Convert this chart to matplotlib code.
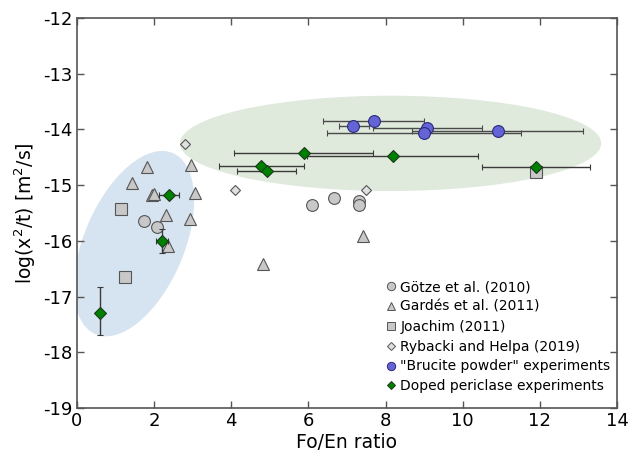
import matplotlib
matplotlib.use("Agg")
import matplotlib.pyplot as plt
from matplotlib.patches import Ellipse
from matplotlib.transforms import ScaledTranslation
from matplotlib.lines import Line2D

# ---------------- data ----------------
gotze_x = [1.74, 2.07, 6.10, 6.66, 7.32, 7.32]
gotze_y = [-15.64, -15.76, -15.36, -15.23, -15.28, -15.36]

gardes_x = [1.81, 2.96, 1.43, 1.94, 2.00, 3.07, 2.30, 2.92, 2.35, 4.82, 7.42]
gardes_y = [-14.68, -14.64, -14.97, -15.18, -15.15, -15.14, -15.54, -15.61, -16.10, -16.41, -15.91]

joachim_x = [1.15, 1.25, 11.90]
joachim_y = [-15.43, -16.65, -14.76]

rybacki_x = [2.81, 4.10, 7.49]
rybacki_y = [-14.26, -15.09, -15.09]

brucite_x = [7.69, 7.16, 9.07, 8.99, 10.91]
brucite_y = [-13.84, -13.94, -13.98, -14.06, -14.03]
brucite_xlo = [6.38, 6.79, 7.67, 6.47, 8.69]
brucite_xhi = [8.99, 7.56, 10.49, 11.50, 13.11]

doped_x = [5.88, 8.18, 4.76, 4.92, 11.90, 2.39, 2.20, 0.60]
doped_y = [-14.42, -14.47, -14.65, -14.75, -14.67, -15.17, -16.00, -17.30]
doped_xlo = [4.07, 5.97, 3.67, 4.15, 10.49, 2.13, 2.05, 0.60]
doped_xhi = [7.68, 10.40, 5.88, 5.69, 13.31, 2.65, 2.36, 0.60]
doped_ylo = [-14.42, -14.47, -14.65, -14.75, -14.67, -15.17, -16.21, -17.69]
doped_yhi = [-14.42, -14.47, -14.65, -14.75, -14.67, -15.17, -15.78, -16.83]

labels = ["Götze et al. (2010)", "Gardés et al. (2011)", "Joachim (2011)",
          "Rybacki and Helpa (2019)", "\"Brucite powder\" experiments",
          "Doped periclase experiments"]

xticks = [0, 2, 4, 6, 8, 10, 12, 14]
yticks = [-19, -18, -17, -16, -15, -14, -13, -12]

# ---------------- figure ----------------
fig = plt.figure(figsize=(6.32, 4.55), dpi=100)
ax = fig.add_axes([77/632, 1-408/455, 540/632, 390/455])
ax.set_xlim(0, 14)
ax.set_ylim(-19, -12)

# shaded ellipses
green_ell = Ellipse((8.13, -14.25), 10.92, 1.71, facecolor="#dfe9dc",
                    edgecolor="none", zorder=0)
ax.add_patch(green_ell)
blue_trans = fig.dpi_scale_trans + ScaledTranslation(1.48, -16.05, ax.transData)
blue_ell = Ellipse((0, 0), 1.97, 1.00, angle=66.9, facecolor="#d6e4f1",
                   edgecolor="none", transform=blue_trans, zorder=0)
ax.add_patch(blue_ell)

gray_f = "#c8c8c8"
gray_e = "#555555"

ax.plot(gotze_x, gotze_y, "o", ms=8.5, mfc=gray_f, mec=gray_e, mew=0.8, zorder=3)
ax.plot(gardes_x, gardes_y, "^", ms=8, mfc=gray_f, mec=gray_e, mew=0.8, zorder=3)
ax.plot(joachim_x, joachim_y, "s", ms=8, mfc=gray_f, mec=gray_e, mew=0.8, zorder=3)
ax.plot(rybacki_x, rybacki_y, "D", ms=5.5, mfc="#e0e0e0", mec=gray_e, mew=0.8, zorder=3)

bx_err = [[x - lo for x, lo in zip(brucite_x, brucite_xlo)],
          [hi - x for x, hi in zip(brucite_x, brucite_xhi)]]
ax.errorbar(brucite_x, brucite_y, xerr=bx_err, fmt="o", ms=8.5,
            mfc="#6464d6", mec="#2a2a7a", mew=0.8, ecolor="#4a4a4a",
            elinewidth=1.0, capsize=2, capthick=1.0, zorder=4)

dx_err = [[x - lo for x, lo in zip(doped_x, doped_xlo)],
          [hi - x for x, hi in zip(doped_x, doped_xhi)]]
dy_err = [[y - lo for y, lo in zip(doped_y, doped_ylo)],
          [hi - y for y, hi in zip(doped_y, doped_yhi)]]
ax.errorbar(doped_x, doped_y, xerr=dx_err, yerr=dy_err, fmt="D", ms=6,
            mfc="#008000", mec="#1a3a1a", mew=0.8, ecolor="#3a3a3a",
            elinewidth=1.0, capsize=2, capthick=1.0, zorder=5)

# axes styling
for s in ax.spines.values():
    s.set_color("#555555")
    s.set_linewidth(1.2)
ax.set_xticks(xticks)
ax.set_yticks(yticks)
ax.set_xticklabels([str(t) for t in xticks])
ax.set_yticklabels([str(t) for t in yticks])
ax.tick_params(direction="in", top=True, right=True, length=5, width=1,
               color="#555555", labelsize=13, pad=3)
ax.set_xlabel("Fo/En ratio", fontsize=13.5, labelpad=2)
ax.set_ylabel("log(x$^2$/t) [m$^2$/s]", fontsize=13.5, labelpad=4)

# legend
handles = [
    Line2D([], [], ls="none", marker="o", ms=6, mfc=gray_f, mec=gray_e, mew=0.7),
    Line2D([], [], ls="none", marker="^", ms=6, mfc=gray_f, mec=gray_e, mew=0.7),
    Line2D([], [], ls="none", marker="s", ms=6, mfc=gray_f, mec=gray_e, mew=0.7),
    Line2D([], [], ls="none", marker="D", ms=4.5, mfc="#e0e0e0", mec=gray_e, mew=0.7),
    Line2D([], [], ls="none", marker="o", ms=6, mfc="#6464d6", mec="#2a2a7a", mew=0.7),
    Line2D([], [], ls="none", marker="D", ms=4.5, mfc="#008000", mec="#1a3a1a", mew=0.7),
]
ax.legend(handles, labels, loc="upper left", bbox_to_anchor=(0.572, 0.328),
          frameon=False, fontsize=10, handlelength=0.7, handletextpad=0.35,
          labelspacing=0.42, borderaxespad=0, borderpad=0)

fig.savefig("out.png", dpi=100)
